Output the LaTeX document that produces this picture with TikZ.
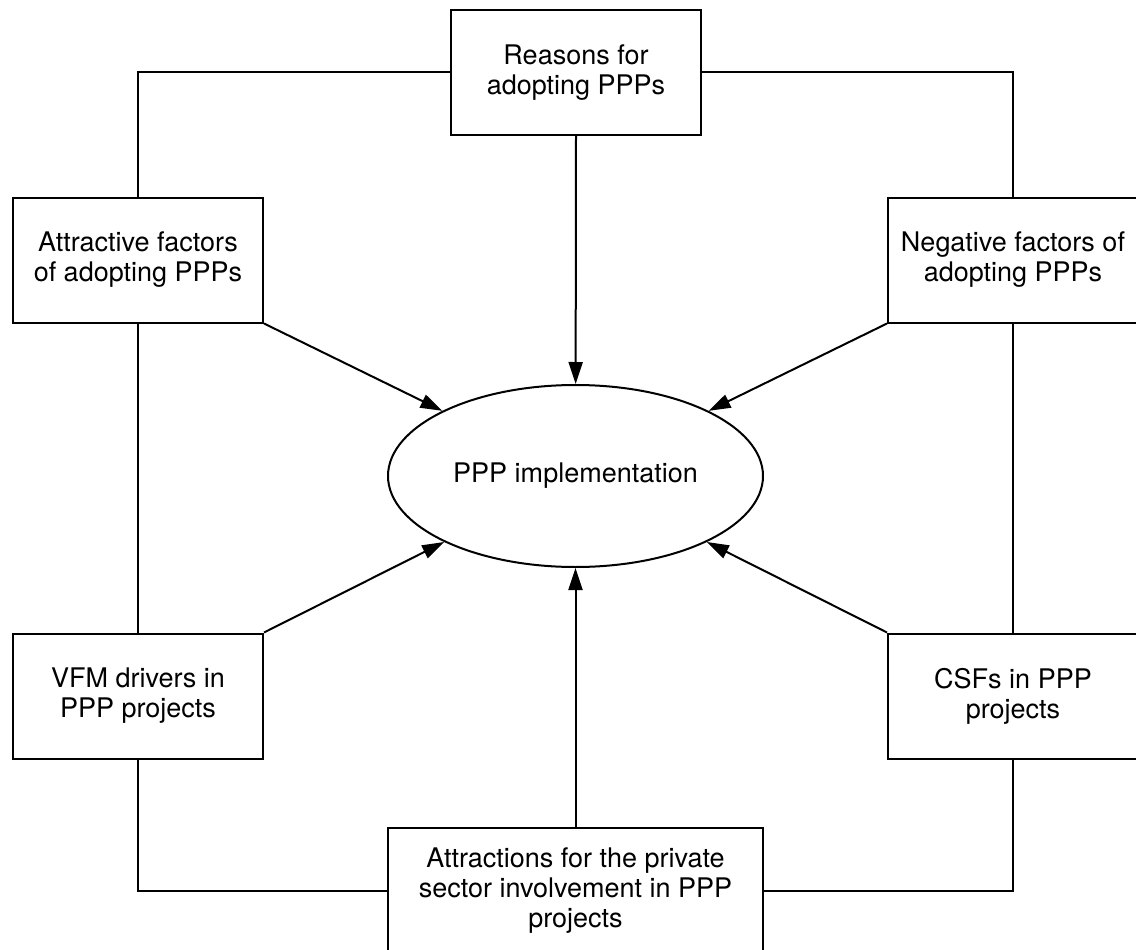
\documentclass[tikz,border=0pt]{standalone}
\usepackage{fontspec}
\setmainfont{TeX Gyre Heros}
\usetikzlibrary{arrows.meta,shapes.geometric}
\begin{document}
\begin{tikzpicture}[x=1pt,y=-1pt,
  line width=2pt,
  every node/.style={font=\fontsize{27}{30}\selectfont, align=center, inner sep=0pt},
  factor/.style={draw, rectangle, minimum width=250pt, minimum height=125pt},
  wide/.style={draw, rectangle, minimum width=375pt, minimum height=125pt},
  hub/.style={draw, ellipse, minimum width=375pt, minimum height=182pt},
  link/.style={-{Triangle[length=22pt,width=14pt]}}]
  \useasboundingbox (0,0) rectangle (1136,950);

  % central outcome
  \node[hub] (impl) at (575.5,476) {PPP implementation};

  % surrounding factor boxes
  \node[factor] (reasons) at (576,72.5) {Reasons for\\adopting PPPs};
  \node[factor] (attr) at (138,260) {Attractive factors\\of adopting PPPs};
  \node[factor] (neg) at (1013,260) {Negative factors of\\adopting PPPs};
  \node[factor] (vfm) at (138,696) {VFM drivers in\\PPP projects};
  \node[factor] (csf) at (1013,696) {CSFs in PPP\\projects};
  \node[wide] (priv) at (575.5,890.5) {Attractions for the private\\sector involvement in PPP\\projects};

  % outer ring joining the boxes
  \draw (reasons.west) -| (attr.north);
  \draw (reasons.east) -| (neg.north);
  \draw (attr.south) -- (vfm.north);
  \draw (neg.south) -- (csf.north);
  \draw (vfm.south) |- (priv.west);
  \draw (csf.south) |- (priv.east);

  % influences on implementation
  \draw[link] (reasons.south) -- (impl);
  \draw[link] (priv.north) -- (impl);
  \draw[link] (attr.south east) -- (impl);
  \draw[link] (neg.south west) -- (impl);
  \draw[link] (vfm.north east) -- (impl);
  \draw[link] (csf.north west) -- (impl);
\end{tikzpicture}
\end{document}
